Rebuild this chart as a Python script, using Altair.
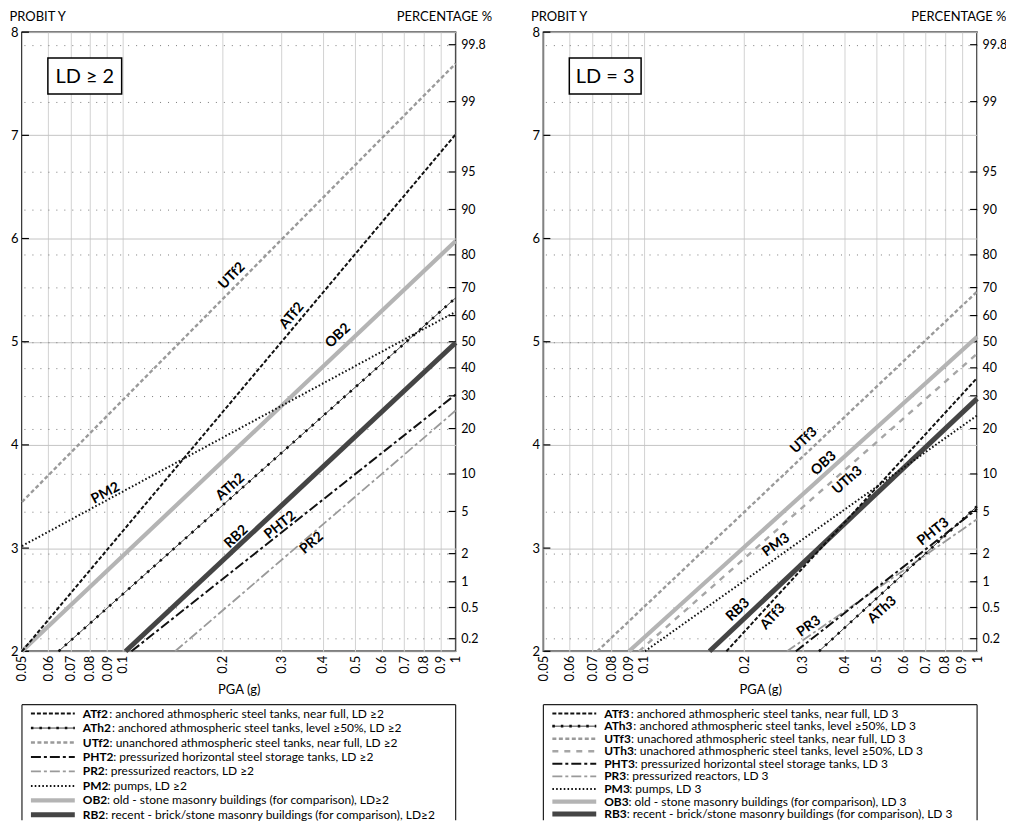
import math
from statistics import NormalDist
import altair as alt
import pandas as pd

FONT = "Lato"
W, H = 435, 621

# ---------------- axis ticks ----------------
x_ticks = [0.05, 0.06, 0.07, 0.08, 0.09, 0.1, 0.2, 0.3, 0.4, 0.5, 0.6, 0.7, 0.8, 0.9, 1.0]
probit_ticks = [2, 3, 4, 5, 6, 7, 8]
pct_labels = ["0.2", "0.5", "1", "2", "5", "10", "20", "30", "40", "50",
              "60", "70", "80", "90", "95", "99", "99.8"]

# ---------------- left panel: LD >= 2 ----------------
codes2 = ["ATf2", "ATh2", "UTf2", "PHT2", "PR2", "PM2", "OB2", "RB2"]
styles2 = ["ATf", "ATh", "UTf", "PHT", "PR", "PM", "OB", "RB"]
pga_start2 = [0.05, 0.0644, 0.05, 0.1065, 0.144, 0.05, 0.05, 0.1023]
probit_start2 = [2.0, 2.0, 3.447, 2.0, 2.0, 3.02, 2.0, 2.0]
pga_end2 = [1.0, 1.0, 1.0, 1.0, 1.0, 1.0, 1.0, 1.0]
probit_end2 = [7.01, 5.425, 7.696, 4.488, 4.333, 5.29, 5.976, 4.99]
label_pga2 = [0.3226, 0.2109, 0.2134, 0.2977, 0.370, 0.0891, 0.4437, 0.2198]
label_probit2 = [5.251, 3.592, 5.638, 3.222, 3.048, 3.531, 5.058, 3.109]
desc2 = [
    ": anchored athmospheric steel tanks, near full, LD \u22652",
    ": anchored athmospheric steel tanks, level \u226550%, LD \u22652",
    ": unanchored athmospheric steel tanks, near full, LD \u22652",
    ": pressurized horizontal steel storage tanks, LD \u22652",
    ": pressurized reactors, LD \u22652",
    ": pumps, LD \u22652",
    ": old - stone masonry buildings (for comparison), LD\u22652",
    ": recent - brick/stone masonry buildings (for comparison), LD\u22652",
]

# ---------------- right panel: LD = 3 ----------------
codes3 = ["ATf3", "ATh3", "UTf3", "UTh3", "PHT3", "PR3", "PM3", "OB3", "RB3"]
styles3 = ["ATf", "ATh", "UTf", "UTh", "PHT", "PR", "PM", "OB", "RB"]
pga_start3 = [0.177, 0.3355, 0.0725, 0.0967, 0.286, 0.269, 0.1008, 0.0903, 0.1575]
probit_start3 = [2.0, 2.0, 2.0, 2.0, 2.0, 2.0, 2.0, 2.0, 2.0]
pga_end3 = [1.0, 1.0, 1.0, 1.0, 1.0, 1.0, 1.0, 1.0, 1.0]
probit_end3 = [4.649, 3.406, 5.486, 4.884, 3.38, 3.28, 4.285, 5.048, 4.449]
label_pga3 = [0.244, 0.5195, 0.3025, 0.4085, 0.739, 0.313, 0.2496, 0.347, 0.1918]
label_probit3 = [2.336, 2.401, 4.043, 3.657, 3.157, 2.24, 3.029, 3.821, 2.401]
desc3 = [
    ": anchored athmospheric steel tanks, near full, LD 3",
    ": anchored athmospheric steel tanks, level \u226550%, LD 3",
    ": unachored athmospheric steel tanks, near full, LD 3",
    ": unachored athmospheric steel tanks, level \u226550%, LD 3",
    ": pressurized horizontal steel storage tanks, LD 3",
    ": pressurized reactors, LD 3",
    ": pumps, LD 3",
    ": old - stone masonry buildings (for comparison), LD 3",
    ": recent - brick/stone masonry buildings (for comparison), LD 3",
]

# ---------------- line styles ----------------
STYLE = {
    "OB":  dict(color="#b4b4b4", strokeWidth=4.2),
    "RB":  dict(color="#454545", strokeWidth=5.0),
    "ATf": dict(color="#111111", strokeWidth=2.0, strokeDash=[4, 2]),
    "ATh": dict(color="#111111", strokeWidth=2.6, strokeDash=[2.5, 6]),
    "UTf": dict(color="#9a9a9a", strokeWidth=2.4, strokeDash=[4, 2.5]),
    "UTh": dict(color="#a6a6a6", strokeWidth=2.4, strokeDash=[6, 6]),
    "PHT": dict(color="#111111", strokeWidth=2.0, strokeDash=[10, 3, 3, 3]),
    "PR":  dict(color="#9a9a9a", strokeWidth=1.8, strokeDash=[10, 3, 3, 3]),
    "PM":  dict(color="#111111", strokeWidth=2.0, strokeDash=[1.6, 2.2]),
}
DRAW_ORDER = ["OB", "RB", "UTf", "UTh", "PR", "PM", "ATh", "PHT", "ATf"]

pct_pos = [5 + NormalDist().inv_cdf(float(p) / 100.0) for p in pct_labels]
label_expr = "''"
for pos, lab in zip(pct_pos, pct_labels):
    label_expr = f"abs(datum.value - {pos:.4f}) < 0.01 ? '{lab}' : (" + label_expr + ")"

PX_DEC = W / math.log10(20)
PX_PRO = H / 6.0

BOLD_W = {"A": 0.67, "T": 0.58, "f": 0.36, "h": 0.58, "U": 0.70, "P": 0.61, "H": 0.75,
          "R": 0.63, "M": 0.88, "O": 0.77, "B": 0.65, "2": 0.58, "3": 0.58}

LEG_TOP = H + 53.5     # legend frame top, below the x axis title
LEG_ROW0 = LEG_TOP + 9
LEG_LEN = 116


def bold_width(s, size=12.1):
    return sum(BOLD_W.get(ch, 0.6) for ch in s) * size


def make_panel(codes, styles, pgs, ps, pge, pe, lpga, lprob, tag, box_w, descs, spacing,
               lfont, pct_title_x):
    rows = []
    for i, c in enumerate(codes):
        rows.append(dict(code=c, style=styles[i], pga=pgs[i], probit=ps[i], o=0))
        rows.append(dict(code=c, style=styles[i], pga=pge[i], probit=pe[i], o=1))
    df = pd.DataFrame(rows)
    angles = []
    for i in range(len(codes)):
        th = math.degrees(math.atan2((pe[i] - ps[i]) * PX_PRO,
                                     (math.log10(pge[i]) - math.log10(pgs[i])) * PX_DEC))
        angles.append(360 - th)
    lab = pd.DataFrame(dict(code=codes, pga=lpga, probit=lprob, angle=angles))

    xs = alt.Scale(type="log", domain=[0.05, 1.0], nice=False)
    ys = alt.Scale(domain=[2, 8], nice=False, zero=False)
    xax = alt.Axis(values=x_ticks, labelExpr="format(datum.value, '~g')", labelAngle=270,
                   labelAlign="right", labelBaseline="middle", labelPadding=4, ticks=False,
                   grid=True, gridColor="#d2d2d2", gridWidth=1, domain=False,
                   title="PGA (g)", titlePadding=3)
    x = alt.X("pga:Q", scale=xs, axis=xax)
    y = alt.Y("probit:Q", scale=ys, axis=None)

    # axis carriers (invisible points owning the two y axes)
    left_axis = alt.Chart(pd.DataFrame({"probit": probit_ticks, "pga": 0.05})).mark_point(
        opacity=0).encode(
        x=x,
        y=alt.Y("probit:Q", scale=ys, axis=alt.Axis(
            values=probit_ticks, grid=True, gridColor="#c4c4c4", gridWidth=1, ticks=False,
            domain=False, labelPadding=4, title="PROBIT Y", titleAngle=0, titleAlign="left",
            titleBaseline="bottom", titleX=-13, titleY=-9)))
    right_axis = alt.Chart(pd.DataFrame({"probit": pct_pos, "pga": 1.0})).mark_point(
        opacity=0).encode(
        x=x,
        y=alt.Y("probit:Q", scale=ys, axis=alt.Axis(
            orient="right", values=pct_pos, labelExpr=label_expr, grid=True,
            gridColor="#7a7a7a", gridDash=[1, 7], gridWidth=1, ticks=False, domain=False,
            labelPadding=5, labelFontSize=12.5, title="PERCENTAGE %", titleAngle=0,
            titleAlign="right", titleBaseline="bottom", titleX=pct_title_x, titleY=-9)))

    # inward tick marks
    left_ticks = alt.Chart(pd.DataFrame({"probit": probit_ticks})).mark_rule(
        color="black", strokeWidth=1.2).encode(y=y, x=alt.value(0), x2=alt.value(7))
    right_ticks = alt.Chart(pd.DataFrame({"probit": pct_pos})).mark_rule(
        color="black", strokeWidth=1.2).encode(y=y, x=alt.value(W - 7), x2=alt.value(W))

    layers = [left_axis, right_axis, left_ticks, right_ticks]
    present = set(styles)
    for key in DRAW_ORDER:
        if key not in present:
            continue
        if key == "ATh":
            layers.append(alt.Chart(df).transform_filter("datum.style == 'ATh'").mark_line(
                color="#111111", strokeWidth=0.8).encode(x=x, y=y, detail="code:N", order="o:Q"))
        layers.append(alt.Chart(df).transform_filter(f"datum.style == '{key}'").mark_line(
            strokeCap="butt", **STYLE[key]).encode(x=x, y=y, detail="code:N", order="o:Q"))

    labels = alt.Chart(lab).mark_text(fontWeight="bold", fontSize=14, color="black",
                                      align="center", baseline="middle").encode(
        x=x, y=y, text="code:N", angle=alt.Angle("angle:Q", scale=None))
    layers.append(labels)

    tagdf = pd.DataFrame({"t": [tag]})
    layers.append(alt.Chart(tagdf).mark_rect(fill="white", stroke="black", strokeWidth=1.5).encode(
        x=alt.value(26), x2=alt.value(26 + box_w), y=alt.value(26), y2=alt.value(62)))
    layers.append(alt.Chart(tagdf).mark_text(fontSize=20, align="center", baseline="middle",
                                             color="black").encode(
        x=alt.value(26 + box_w / 2), y=alt.value(45), text="t:N"))

    # ---- legend (drawn below the plot, inside a frame open at the bottom) ----
    n = len(codes)
    leg = pd.DataFrame({"code": codes, "style": styles, "desc": descs})
    leg["yy"] = [LEG_ROW0 + i * spacing for i in range(n)]
    leg["sx1"] = 9
    leg["sx2"] = 53
    leg["cx"] = 61
    leg["tx"] = [61 + bold_width(c, lfont * 1.01) for c in codes]
    ly = alt.Y("yy:Q", scale=None, axis=None)
    frame = dict(color="#222222", strokeWidth=1.2)
    layers.append(alt.Chart(tagdf).mark_rule(**frame).encode(
        x=alt.value(0), x2=alt.value(W), y=alt.value(LEG_TOP)))
    layers.append(alt.Chart(tagdf).mark_rule(**frame).encode(
        x=alt.value(0), y=alt.value(LEG_TOP), y2=alt.value(LEG_TOP + LEG_LEN)))
    layers.append(alt.Chart(tagdf).mark_rule(**frame).encode(
        x=alt.value(W), y=alt.value(LEG_TOP), y2=alt.value(LEG_TOP + LEG_LEN)))
    for key in styles:
        if key == "ATh":
            layers.append(alt.Chart(leg).transform_filter("datum.style == 'ATh'").mark_rule(
                color="#111111", strokeWidth=0.8).encode(
                y=ly, x=alt.X("sx1:Q", scale=None, axis=None), x2="sx2:Q"))
        layers.append(alt.Chart(leg).transform_filter(f"datum.style == '{key}'").mark_rule(
            strokeCap="butt", **STYLE[key]).encode(
            y=ly, x=alt.X("sx1:Q", scale=None, axis=None), x2="sx2:Q"))
    layers.append(alt.Chart(leg).mark_text(align="left", baseline="middle", fontWeight="bold",
                                           fontSize=lfont, color="black").encode(
        y=ly, x=alt.X("cx:Q", scale=None, axis=None), text="code:N"))
    layers.append(alt.Chart(leg).mark_text(align="left", baseline="middle", fontSize=lfont,
                                           color="black").encode(
        y=ly, x=alt.X("tx:Q", scale=None, axis=None), text="desc:N"))

    return alt.layer(*layers).resolve_axis(y="independent").properties(width=W, height=H)


p2 = make_panel(codes2, styles2, pga_start2, probit_start2, pga_end2, probit_end2,
                label_pga2, label_probit2, "LD \u2265 2", 74, desc2, 14.5, 12, 36)
p3 = make_panel(codes3, styles3, pga_start3, probit_start3, pga_end3, probit_end3,
                label_pga3, label_probit3, "LD = 3", 72, desc3, 12.6, 12, 29)

chart = alt.hconcat(p2, p3, spacing=37).properties(
    padding={"left": 0, "top": 0, "right": -2, "bottom": 0}
).configure_view(stroke="black", strokeWidth=1.5).configure_axis(
    labelFont=FONT, titleFont=FONT, labelFontSize=13, titleFontSize=13,
    titleFontWeight="normal", labelColor="black", titleColor="black"
).configure_text(font=FONT)

chart.save("out.html", embed_options={"renderer": "svg", "actions": False})
